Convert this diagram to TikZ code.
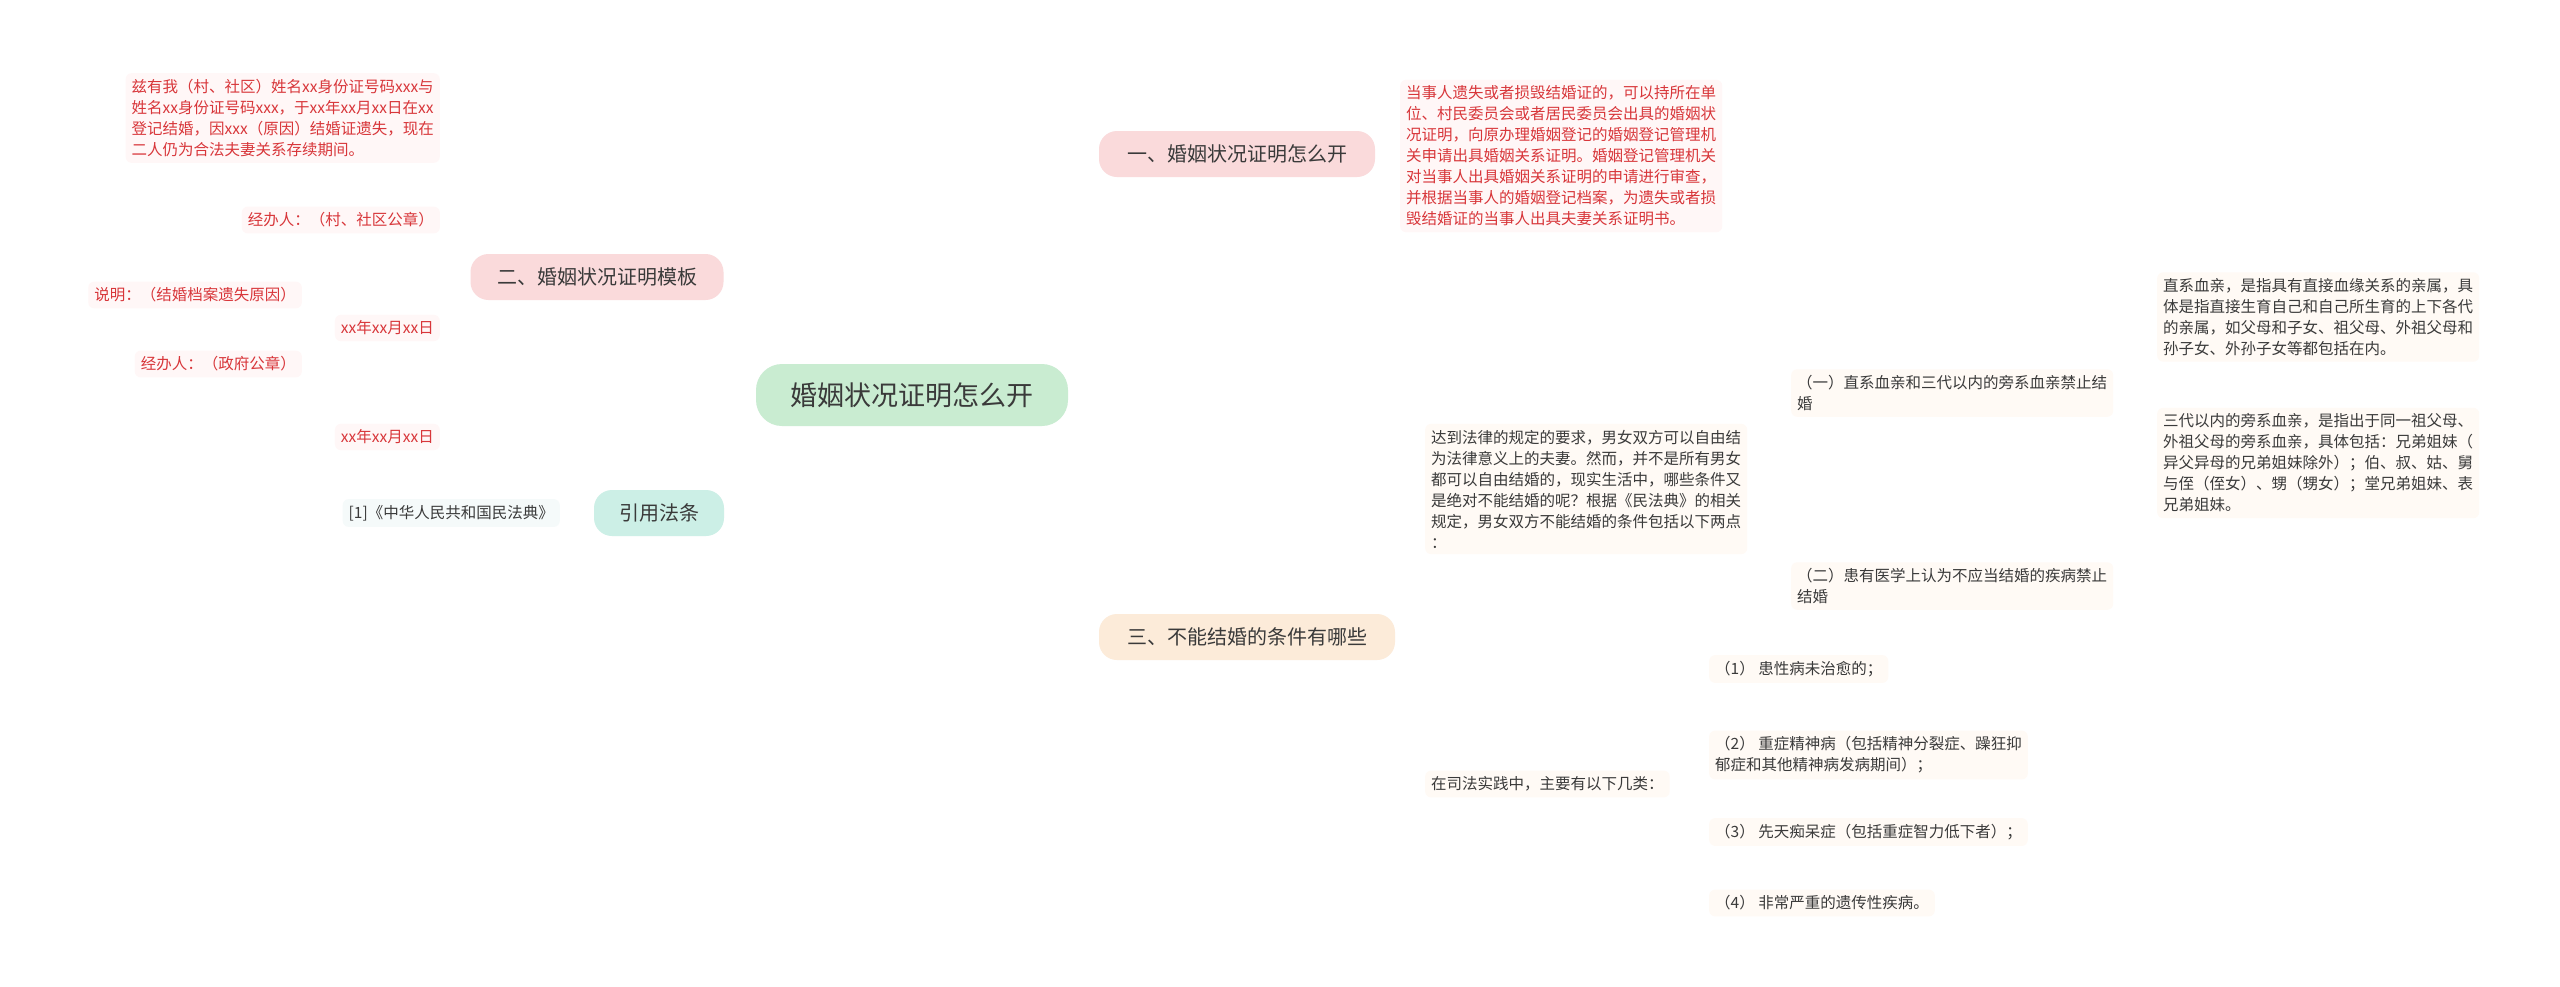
\documentclass[tikz,border=0pt]{standalone}
\usepackage{fontspec}
\setmainfont{Noto Sans CJK SC}
\usetikzlibrary{backgrounds}
\definecolor{redt}{HTML}{D8363A}
\definecolor{grayt}{HTML}{3A3A3A}
\definecolor{pkline}{HTML}{F5CACA}
\definecolor{tlline}{HTML}{BFE8DE}
\definecolor{bgline}{HTML}{F8E4CE}
\definecolor{pkfill}{HTML}{FADADB}
\definecolor{tlfill}{HTML}{CCEFE6}
\definecolor{bgfill}{HTML}{FCEBD9}
\definecolor{rootfill}{HTML}{C9ECD1}
\tikzset{
 leafr/.style={font=\fontsize{15.5}{21}\selectfont, text=redt, fill=red!3, rounded corners=6pt, inner sep=6pt, align=left},
 leafg/.style={font=\fontsize{15.5}{21}\selectfont, text=grayt, fill=orange!4, rounded corners=6pt, inner sep=6pt, align=left},
 leaft/.style={font=\fontsize{15.5}{21}\selectfont, text=grayt, fill=teal!4, rounded corners=6pt, inner sep=6pt, align=left},
 br/.style={font=\fontsize{20}{24}\selectfont, text=grayt, rounded corners=18pt, minimum height=46pt, inner xsep=16pt},
 pk/.style={draw=pkline, line width=1.6pt, rounded corners=10pt},
 tl/.style={draw=tlline, line width=1.6pt, rounded corners=10pt},
 bg/.style={draw=bgline, line width=1.6pt, rounded corners=10pt},
}
\begin{document}
\begin{tikzpicture}[x=1pt,y=-1pt]
\useasboundingbox[fill=white] (0,0) rectangle (2560,986);
% root
\node[font=\fontsize{27}{30}\selectfont, text=grayt, fill=rootfill, rounded corners=26pt, minimum width=312pt, minimum height=62pt] (root) at (912,395) {婚姻状况证明怎么开};
% branches
\node[br, fill=pkfill, minimum width=276pt] (b1) at (1237,154) {一、婚姻状况证明怎么开};
\node[br, fill=pkfill, minimum width=253pt] (b2) at (597,277) {二、婚姻状况证明模板};
\node[br, fill=tlfill, minimum width=130pt] (b3) at (659,513) {引用法条};
\node[br, fill=bgfill, minimum width=296pt] (b4) at (1247,637) {三、不能结婚的条件有哪些};
% branch 1 leaf
\node[leafr, anchor=west] (t1) at (1400,156) {当事人遗失或者损毁结婚证的，可以持所在单\\位、村民委员会或者居民委员会出具的婚姻状\\况证明，向原办理婚姻登记的婚姻登记管理机\\关申请出具婚姻关系证明。婚姻登记管理机关\\对当事人出具婚姻关系证明的申请进行审查，\\并根据当事人的婚姻登记档案，为遗失或者损\\毁结婚证的当事人出具夫妻关系证明书。};
% branch 2 leaves
\node[leafr, anchor=east] (p1) at (440,118) {兹有我（村、社区）姓名xx身份证号码xxx与\\姓名xx身份证号码xxx，于xx年xx月xx日在xx\\登记结婚，因xxx（原因）结婚证遗失，现在\\二人仍为合法夫妻关系存续期间。};
\node[leafr, anchor=east] (p2) at (440,220) {经办人：（村、社区公章）};
\node[leafr, anchor=east] (p3) at (440,328) {xx年xx月xx日};
\node[leafr, anchor=east] (p4) at (440,437) {xx年xx月xx日};
\node[leafr, anchor=east] (q1) at (302,295) {说明：（结婚档案遗失原因）};
\node[leafr, anchor=east] (q2) at (302,364) {经办人：（政府公章）};
% branch 3 leaf
\node[leaft, anchor=east] (r1) at (560,513) {[1]《中华人民共和国民法典》};
% branch 4
\node[leafg, anchor=west] (s1) at (1425,489) {达到法律的规定的要求，男女双方可以自由结\\为法律意义上的夫妻。然而，并不是所有男女\\都可以自由结婚的，现实生活中，哪些条件又\\是绝对不能结婚的呢？根据《民法典》的相关\\规定，男女双方不能结婚的条件包括以下两点\\：};
\node[leafg, anchor=west] (s2) at (1425,784) {在司法实践中，主要有以下几类：};
\node[leafg, anchor=west] (u1) at (1791,393) {（一）直系血亲和三代以内的旁系血亲禁止结\\婚};
\node[leafg, anchor=west] (u2) at (1791,586) {（二）患有医学上认为不应当结婚的疾病禁止\\结婚};
\node[leafg, anchor=west] (v1) at (2157,317) {直系血亲，是指具有直接血缘关系的亲属，具\\体是指直接生育自己和自己所生育的上下各代\\的亲属，如父母和子女、祖父母、外祖父母和\\孙子女、外孙子女等都包括在内。};
\node[leafg, anchor=west] (v2) at (2157,463) {三代以内的旁系血亲，是指出于同一祖父母、\\外祖父母的旁系血亲，具体包括：兄弟姐妹（\\异父异母的兄弟姐妹除外）；伯、叔、姑、舅\\与侄（侄女）、甥（甥女）；堂兄弟姐妹、表\\兄弟姐妹。};
\node[leafg, anchor=west] (w1) at (1709,669) {（1） 患性病未治愈的；};
\node[leafg, anchor=west] (w2) at (1709,755) {（2） 重症精神病（包括精神分裂症、躁狂抑\\郁症和其他精神病发病期间）；};
\node[leafg, anchor=west] (w3) at (1709,832) {（3） 先天痴呆症（包括重症智力低下者）；};
\node[leafg, anchor=west] (w4) at (1709,903) {（4） 非常严重的遗传性疾病。};
\begin{scope}[on background layer]
\draw[pk] (root.center) .. controls (930,200) and (960,154) .. (b1.west);
\draw[pk] (root.center) .. controls (850,300) and (800,277) .. (b2.east);
\draw[tl] (root.center) .. controls (850,460) and (800,513) .. (b3.east);
\draw[bg] (root.center) .. controls (950,560) and (980,637) .. (b4.west);
\draw[pk] (b1.east) -- (t1.west);
\foreach \n in {p1,p2,p3,p4} \draw[pk] (b2.west) -- ++(-18,0) |- (\n.east);
\foreach \n in {q1,q2} \draw[pk] (p3.west) -- ++(-10,0) |- (\n.east);
\draw[tl] (b3.west) -- (r1.east);
\foreach \n in {s1,s2} \draw[bg] (b4.east) -- ++(14,0) |- (\n.west);
\foreach \n in {u1,u2} \draw[bg] (s1.east) -- ++(14,0) |- (\n.west);
\foreach \n in {v1,v2} \draw[bg] (u1.east) -- ++(14,0) |- (\n.west);
\foreach \n in {w1,w2,w3,w4} \draw[bg] (s2.east) -- ++(16,0) |- (\n.west);
\end{scope}
\end{tikzpicture}
\end{document}
